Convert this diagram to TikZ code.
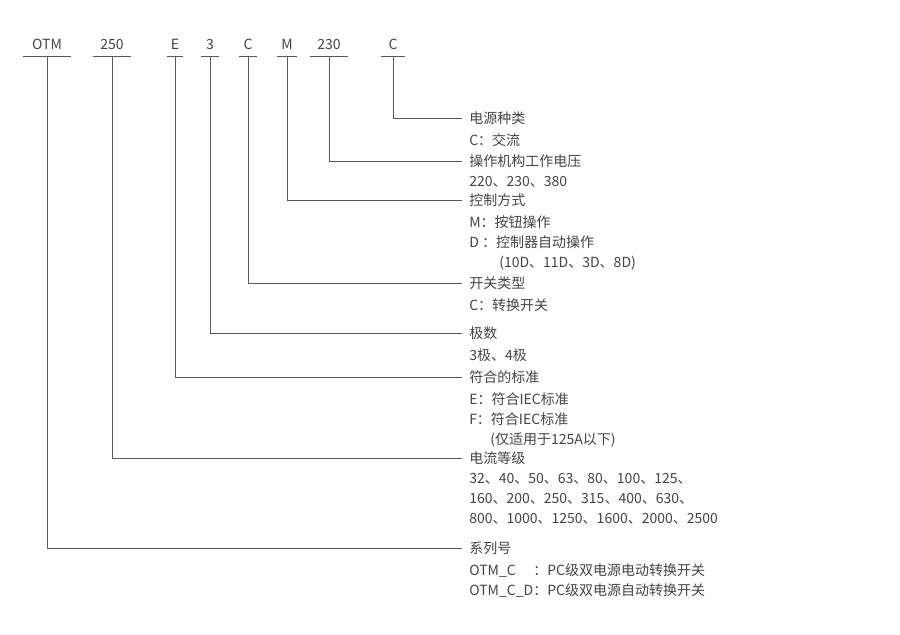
\documentclass[tikz,border=0pt]{standalone}
\usepackage{fontspec}
\setmainfont{Noto Sans CJK SC}
\usepackage{tikz}
\usetikzlibrary{positioning}
\definecolor{OTText}{HTML}{444444}
\definecolor{OTLine}{HTML}{5A5A5A}

\tikzset{
  rule/.style={OTLine,line width=0.6pt},
  code/.style={anchor=south,inner xsep=0pt,inner ysep=4.5pt,text depth=0pt,
    font=\fontsize{10.5pt}{15pt}\selectfont,text=OTText},
  head/.style={anchor=west,inner xsep=5.25pt,inner ysep=0pt,
    font=\fontsize{10.5pt}{15pt}\selectfont,text=OTText},
  note/.style={anchor=north west,inner xsep=5.25pt,inner ysep=0pt,align=left,
    font=\fontsize{10.5pt}{15pt}\selectfont,text=OTText}
}

\begin{document}
\begin{tikzpicture}[x=0.75pt,y=-0.75pt]
\path[use as bounding box] (0,0) rectangle (900,635);
% model code along the top
\node[code,minimum width={48*0.75pt}] (cOTM) at (47,56) {OTM};
\node[code,minimum width={38*0.75pt}] (cCur) at (112,56) {250};
\node[code,minimum width={16*0.75pt}] (cStd) at (175,56) {E};
\node[code,minimum width={17*0.75pt}] (cPole) at (210,56) {3};
\node[code,minimum width={17*0.75pt}] (cType) at (248,56) {C};
\node[code,minimum width={19*0.75pt}] (cCtrl) at (287,56) {M};
\node[code,minimum width={37*0.75pt}] (cVolt) at (329,56) {230};
\node[code,minimum width={23*0.75pt}] (cSupply) at (393,56) {C};
\foreach \n in {cOTM,cCur,cStd,cPole,cType,cCtrl,cVolt,cSupply}
  \draw[rule] (\n.south west) -- (\n.south east);

% meanings on the right
\node[head] (hSupply) at (462,118) {电源种类};
\node[note,below=6.5pt of hSupply.south west,anchor=north west] (nSupply) {C：交流};
\node[head] (hVolt) at (462,161) {操作机构工作电压};
\node[note,below=6.5pt of hVolt.south west,anchor=north west] (nVolt) {220、230、380};
\node[head] (hCtrl) at (462,200) {控制方式};
\node[note,below=6.5pt of hCtrl.south west,anchor=north west] (nCtrl)
  {M：按钮操作\\D ：控制器自动操作\\\hspace*{22.5pt}(10D、11D、3D、8D)};
\node[head] (hType) at (462,283) {开关类型};
\node[note,below=6.5pt of hType.south west,anchor=north west] (nType) {C：转换开关};
\node[head] (hPole) at (462,333) {极数};
\node[note,below=6.5pt of hPole.south west,anchor=north west] (nPole) {3极、4极};
\node[head] (hStd) at (462,377) {符合的标准};
\node[note,below=6.5pt of hStd.south west,anchor=north west] (nStd)
  {E：符合IEC标准\\F：符合IEC标准\\\hspace*{15.75pt}(仅适用于125A以下)};
\node[head] (hCur) at (462,458) {电流等级};
\node[note,below=6.5pt of hCur.south west,anchor=north west] (nCur)
  {32、40、50、63、80、100、125、\\160、200、250、315、400、630、\\800、1000、1250、1600、2000、2500};
\node[head] (hOTM) at (462,548) {系列号};
\node[note,below=6.5pt of hOTM.south west,anchor=north west] (nOTM)
  {OTM\_C\phantom{\_D}：PC级双电源电动转换开关\\OTM\_C\_D：PC级双电源自动转换开关};

% leaders
\draw[rule] (cSupply.south) |- (hSupply.west);
\draw[rule] (cVolt.south) |- (hVolt.west);
\draw[rule] (cCtrl.south) |- (hCtrl.west);
\draw[rule] (cType.south) |- (hType.west);
\draw[rule] (cPole.south) |- (hPole.west);
\draw[rule] (cStd.south) |- (hStd.west);
\draw[rule] (cCur.south) |- (hCur.west);
\draw[rule] (cOTM.south) |- (hOTM.west);
\end{tikzpicture}
\end{document}
